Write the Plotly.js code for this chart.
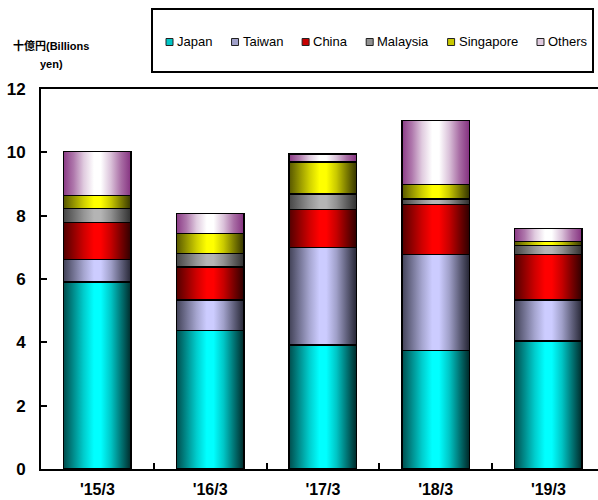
<!DOCTYPE html>
<html><head><meta charset="utf-8">
<script src="https://cdn.plot.ly/plotly-3.0.1.min.js"></script>
<style>html,body{margin:0;padding:0;background:#fff}#chart{width:598px;height:500px}</style>
</head><body><div id="chart"></div>
<script>
// ---- data ----
const categories = ["'15/3", "'16/3", "'17/3", "'18/3", "'19/3"];
const seriesNames = ["Japan", "Taiwan", "China", "Malaysia", "Singapore", "Others"];
const japan     = [5.90, 4.37, 3.91, 3.75, 4.04];
const taiwan    = [0.72, 0.96, 3.09, 3.03, 1.29];
const china     = [1.17, 1.05, 1.20, 1.58, 1.45];
const malaysia  = [0.44, 0.43, 0.49, 0.16, 0.28];
const singapore = [0.41, 0.63, 1.00, 0.46, 0.13];
const others    = [1.38, 0.63, 0.25, 2.02, 0.41];
const yTickVals = [0, 2, 4, 6, 8, 10, 12];
const yTitleLines = ["十億円(Billions", "yen)"];

// ---- styles ----
const centerColors = ["#00FFFF", "#CCCCFF", "#FF0000", "#B4B4B4", "#FFFF00", "#FFFFFF"];
const edgeColors   = ["#001a1a", "#1a1a26", "#200000", "#262626", "#262600", "#84307F"];
const gradOffsets  = [0, 0.15, 0.3, 0.45, 0.55, 0.7, 0.85, 1];
const gradMix      = [0.22, 0.5, 0.78, 1, 1, 0.75, 0.4, 0.06];
const othersMix    = [0.05, 0.35, 0.75, 1, 1, 0.7, 0.3, 0.0];

const W = 598, H = 500, L = 41, R = 0, T = 89, B = 31;
const pw = W - L - R, ph = H - T - B;
const catPx = 112.75;
const fx = px => (px - L) / pw;
const fy = py => (H - B - py) / ph;

function hex2rgb(h){ h=h.replace('#',''); return [0,2,4].map(i=>parseInt(h.substr(i,2),16)); }
function mix(a,b,t){ const A=hex2rgb(a),B2=hex2rgb(b); return 'rgb('+A.map((v,i)=>Math.round(v+(B2[i]-v)*t)).join(',')+')'; }

const seriesValues = [japan, taiwan, china, malaysia, singapore, others];
const traces = seriesValues.map((vals, i) => ({
  type: 'bar', x: categories, y: vals, name: seriesNames[i],
  marker: {color: centerColors[i], line: {color: '#000', width: 1.5}},
  hoverinfo: 'skip', showlegend: false
}));

const fontFam = "'Liberation Sans', Arial, 'Noto Sans CJK JP', sans-serif";
const shapes = [];
const annotations = [];

// custom legend box
shapes.push({type:'rect', xref:'paper', yref:'paper', x0: fx(152), x1: fx(593), y0: fy(72), y1: fy(9),
  line:{color:'#000', width:2}, fillcolor:'rgba(0,0,0,0)'});
const legFontSize = 13;
const ctx = document.createElement('canvas').getContext('2d');
ctx.font = legFontSize + "px 'Liberation Sans'";
const tw = seriesNames.map(n => ctx.measureText(n).width);
const startX = 166, endX = 587, sw = 7, sg = 4;
const totalText = tw.reduce((a,b)=>a+b,0);
const gapAfter = (endX - startX - seriesNames.length*(sw+sg) - totalText) / (seriesNames.length - 1);
let cx = startX;
const legY = 42;
seriesNames.forEach((n, i) => {
  shapes.push({type:'rect', xref:'paper', yref:'paper', x0: fx(cx), x1: fx(cx+sw), y0: fy(legY+3.5), y1: fy(legY-3.5),
    line:{color:'#222', width:1}, fillcolor: mix(edgeColors[i], centerColors[i], 0.75)});
  annotations.push({xref:'paper', yref:'paper', x: fx(cx+sw+sg-1), y: fy(legY), xanchor:'left', yanchor:'middle',
    text: n, showarrow:false, font:{family: fontFam, size: legFontSize, color:'#000'}, borderpad:0});
  cx += sw + sg + tw[i] + gapAfter;
});

// y-axis title
yTitleLines.forEach((t, k) => {
  annotations.push({xref:'paper', yref:'paper', x: fx(51), y: fy(46 + k*18), xanchor:'center', yanchor:'middle',
    text: t, showarrow:false, font:{family: fontFam, size: 11, color:'#000', weight:'bold'}});
});

const layout = {
  width: W, height: H,
  margin: {l: L, r: R, t: T, b: B, pad: 0},
  paper_bgcolor: '#fff', plot_bgcolor: '#fff',
  barmode: 'stack', bargap: 0.4,
  showlegend: false,
  xaxis: {
    type: 'category', range: [-0.5, -0.5 + pw / catPx],
    showline: true, linecolor: '#000', linewidth: 2, mirror: true,
    ticks: 'inside', tickson: 'boundaries', ticklen: 6, tickwidth: 2, tickcolor: '#000',
    showgrid: false, zeroline: false, ticklabelstandoff: 5,
    tickfont: {family: fontFam, size: 16, color: '#000', weight: 'bold'}
  },
  yaxis: {
    range: [0, 12], tickvals: yTickVals, ticktext: yTickVals.map(String),
    showline: true, linecolor: '#000', linewidth: 2, mirror: false,
    ticks: 'inside', ticklen: 6, tickwidth: 2, tickcolor: '#000',
    showgrid: false, zeroline: false, ticklabelstandoff: 10,
    tickfont: {family: fontFam, size: 17, color: '#000', weight: 'bold'}
  },
  shapes: shapes,
  annotations: annotations
};

Plotly.newPlot('chart', traces, layout, {staticPlot: true, displayModeBar: false}).then(gd => {
  const NS = 'http://www.w3.org/2000/svg';
  const svg = gd.querySelector('svg.main-svg');
  let defs = svg.querySelector('defs');
  if (!defs) { defs = document.createElementNS(NS, 'defs'); svg.insertBefore(defs, svg.firstChild); }
  centerColors.forEach((c, i) => {
    const g = document.createElementNS(NS, 'linearGradient');
    g.setAttribute('id', 'bargrad' + i);
    g.setAttribute('x1', '0'); g.setAttribute('x2', '1'); g.setAttribute('y1', '0'); g.setAttribute('y2', '0');
    const mixes = (i === centerColors.length - 1) ? othersMix : gradMix;
    gradOffsets.forEach((o, k) => {
      const s = document.createElementNS(NS, 'stop');
      s.setAttribute('offset', o);
      s.setAttribute('stop-color', mix(edgeColors[i], c, mixes[k]));
      g.appendChild(s);
    });
    defs.appendChild(g);
  });
  gd.querySelectorAll('.barlayer .trace').forEach((tr, i) => {
    tr.querySelectorAll('path').forEach(p => { p.style.fill = 'url(#bargrad' + i + ')'; });
  });
});
</script>
</body></html>
